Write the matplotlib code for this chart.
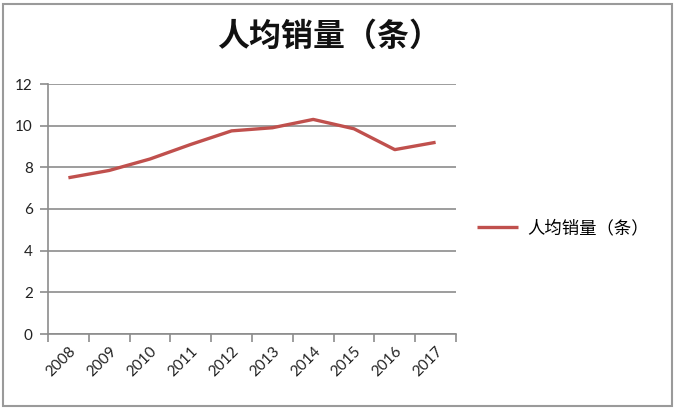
import matplotlib
matplotlib.use("Agg")
import matplotlib.pyplot as plt
from matplotlib.patches import Rectangle
import numpy as np

plt.rcParams['font.family'] = ['Noto Sans CJK SC', 'DejaVu Sans']

years = ['2008', '2009', '2010', '2011', '2012', '2013', '2014', '2015', '2016', '2017']
values = [7.5, 7.85, 8.4, 9.1, 9.75, 9.9, 10.3, 9.85, 8.85, 9.2]
series_name = '人均销量（条）'
yticks = [0, 2, 4, 6, 8, 10, 12]

W, H = 676, 409
fig = plt.figure(figsize=(W / 100, H / 100), dpi=100)
ax = fig.add_axes([48 / W, 1 - 334 / H, (456 - 48) / W, (334 - 84) / H])

x = np.arange(len(years))
line, = ax.plot(x, values, color='#C0504D', linewidth=2.4, label=series_name,
                solid_capstyle='butt', solid_joinstyle='round')

ax.set_xlim(-0.5, len(years) - 0.5)
ax.set_ylim(0, 12)
ax.set_yticks(yticks)
ax.set_yticklabels([str(v) for v in yticks], fontfamily='Lato', fontsize=11, color='#222222')
ax.yaxis.grid(True, color='#8C8C8C', linewidth=1.2)
ax.set_axisbelow(True)

ax.set_xticks(x)
ax.set_xticklabels(years, rotation=45, ha='right', rotation_mode='anchor',
                   fontfamily='Lato', fontsize=11, color='#222222')
ax.tick_params(axis='x', which='major', length=0, pad=7)
ax.set_xticks(np.arange(-0.5, len(years), 1.0), minor=True)
ax.tick_params(axis='x', which='minor', length=6, width=1.2, color='#8C8C8C', direction='out')
ax.tick_params(axis='y', which='major', length=6, width=1.2, color='#8C8C8C', pad=5)

for s in ['top', 'right']:
    ax.spines[s].set_visible(False)
for s in ['left', 'bottom']:
    ax.spines[s].set_color('#8C8C8C')
    ax.spines[s].set_linewidth(1.2)

fig.text(329 / W, 1 - 37 / H, series_name, ha='center', va='center',
         fontsize=23, fontweight='bold', color='#111111')

leg = fig.legend(handles=[line], labels=[series_name], loc='center left',
                 bbox_to_anchor=(461 / W, 1 - 228 / H), frameon=False,
                 fontsize=12.5, handlelength=2.4, handletextpad=0.5)

fig.patches.append(Rectangle((3 / W, 1 - 406 / H), (672 - 3) / W, (406 - 4) / H,
                             transform=fig.transFigure, fill=False,
                             edgecolor='#9A9A9A', linewidth=1.5))

fig.savefig('out.png', dpi=100, facecolor='white')
